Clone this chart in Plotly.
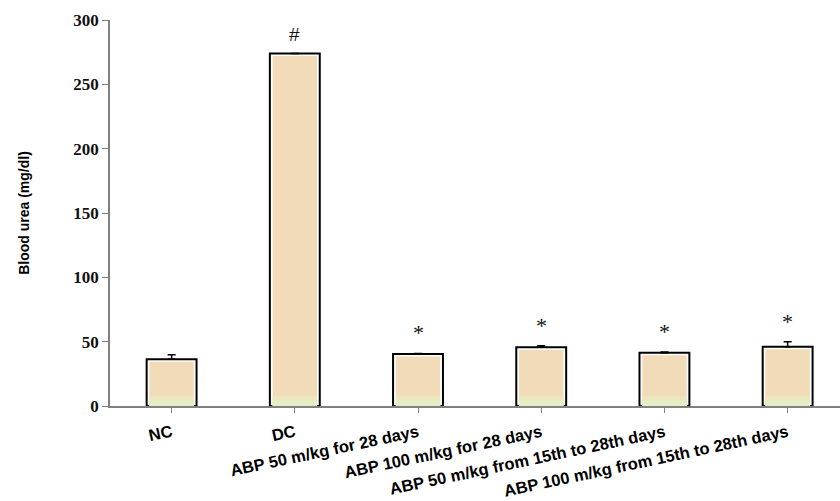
import plotly.graph_objects as go

# Group labels, mean blood urea (mg/dl), SEM and significance marks
groups = [
    "NC",
    "DC",
    "ABP 50 m/kg for 28 days",
    "ABP 100 m/kg for 28 days",
    "ABP 50 m/kg from 15th to 28th days",
    "ABP 100 m/kg from 15th to 28th days",
]
urea = [36.3, 274.0, 40.4, 45.6, 41.4, 46.1]
sem = [3.6, 0.0, 0.5, 1.3, 0.5, 3.9]
marks = ["", "#", "*", "*", "*", "*"]

xpos = list(range(len(groups)))
inset = [2.0] * len(groups)
inner = [v - d for v, d in zip(urea, inset)]
base_band = [8.0] * len(groups)
base_fade = [4.0] * len(groups)

fig = go.Figure()

# outlined bar with upper error bar
fig.add_trace(go.Bar(
    x=xpos, y=urea, width=0.405,
    marker=dict(color="white", line=dict(color="black", width=2)),
    error_y=dict(type="data", array=sem, arrayminus=[0] * len(sem),
                 symmetric=False, color="black", thickness=1.5, width=4),
    hoverinfo="skip", showlegend=False,
))
# beige fill inside the outline
fig.add_trace(go.Bar(
    x=xpos, y=inner, width=0.36,
    marker=dict(color="#F1DBB8", line=dict(width=0)),
    hoverinfo="skip", showlegend=False,
))
# pale green band at the base of each bar, fading upward
fig.add_trace(go.Bar(
    x=xpos, y=base_band, width=0.36,
    marker=dict(color="#EBE6BE", line=dict(width=0)),
    hoverinfo="skip", showlegend=False,
))
fig.add_trace(go.Bar(
    x=xpos, y=base_fade, width=0.36,
    marker=dict(color="#E4EDC4", line=dict(width=0)),
    hoverinfo="skip", showlegend=False,
))

for x, v, e, m in zip(xpos, urea, sem, marks):
    if m:
        fig.add_annotation(
            x=x, y=v + e, text=m, showarrow=False,
            yanchor="bottom", yshift=6,
            font=dict(family="Liberation Sans" if m == "#" else "Liberation Serif",
                      size=19 if m == "#" else 22, color="#111111"),
        )

fig.update_layout(
    width=840, height=501,
    margin=dict(l=110, r=0, t=20, b=95),
    paper_bgcolor="white", plot_bgcolor="white",
    barmode="overlay",
    xaxis=dict(
        tickmode="array", tickvals=xpos, ticktext=groups,
        range=[-0.5, 5.425],
        tickson="boundaries", ticks="outside", ticklen=5, tickcolor="#808080",
        showline=True, linecolor="#808080", linewidth=1.5,
        tickangle=-12, ticklabelstandoff=4,
        tickfont=dict(family="Liberation Sans", size=16.5, color="black", weight="bold"),
        showgrid=False, zeroline=False,
    ),
    yaxis=dict(
        range=[0, 300], tickvals=[0, 50, 100, 150, 200, 250, 300],
        ticks="outside", ticklen=6, tickcolor="#808080",
        showline=True, linecolor="#808080", linewidth=1.5,
        tickfont=dict(family="Liberation Serif", size=17, color="#111111", weight="bold"),
        showgrid=False, zeroline=False,
        title=dict(text="Blood urea (mg/dl)", standoff=40,
                   font=dict(family="Liberation Sans", size=14, color="black", weight="bold")),
    ),
)

fig.write_html("out.html")
